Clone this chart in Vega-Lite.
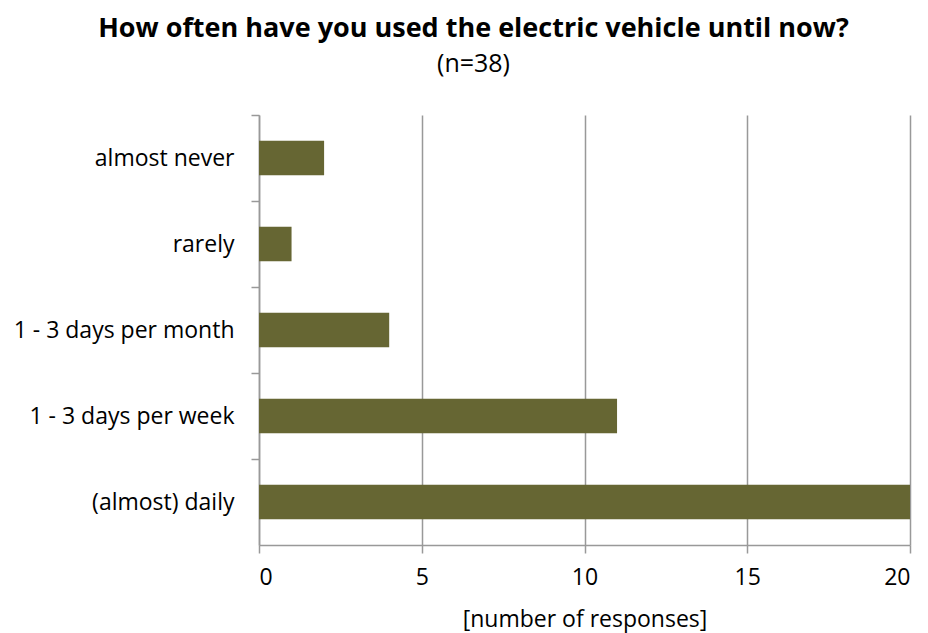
{
  "$schema": "https://vega.github.io/schema/vega-lite/v6.json",
  "autosize": "none",
  "width": 651,
  "height": 430,
  "padding": {"left": 259, "top": 115, "right": 18, "bottom": 88},
  "background": "white",
  "title": {
    "text": "How often have you used the electric vehicle until now?",
    "subtitle": "(n=38)",
    "anchor": "middle",
    "frame": "group",
    "dx": -111,
    "offset": 36,
    "font": "Open Sans",
    "fontSize": 27,
    "fontWeight": "bold",
    "color": "#000000",
    "subtitleFont": "Open Sans",
    "subtitleFontSize": 25,
    "subtitleColor": "#000000",
    "subtitlePadding": 9
  },
  "data": {
    "values": [
      {"category": "almost never", "responses": 2},
      {"category": "rarely", "responses": 1},
      {"category": "1 - 3 days per month", "responses": 4},
      {"category": "1 - 3 days per week", "responses": 11},
      {"category": "(almost) daily", "responses": 20}
    ]
  },
  "mark": {"type": "bar", "color": "#666633"},
  "encoding": {
    "y": {
      "field": "category",
      "type": "nominal",
      "sort": ["almost never", "rarely", "1 - 3 days per month", "1 - 3 days per week", "(almost) daily"],
      "scale": {"paddingInner": 0.6, "paddingOuter": 0.3},
      "axis": {
        "title": null,
        "tickOffset": -43,
        "labelOffset": 43,
        "tickSize": 8,
        "tickColor": "#999999",
        "tickWidth": 1.5,
        "domainColor": "#999999",
        "domainWidth": 1.5,
        "labelFont": "Open Sans",
        "labelFontSize": 23,
        "labelColor": "#000000",
        "labelPadding": 17,
        "labelLimit": 400,
        "grid": false
      }
    },
    "x": {
      "field": "responses",
      "type": "quantitative",
      "scale": {"domain": [0, 20], "nice": false},
      "axis": {
        "values": [0, 5, 10, 15, 20],
        "title": "[number of responses]",
        "titleFont": "Open Sans",
        "titleFontSize": 23,
        "titleFontWeight": "normal",
        "titleColor": "#000000",
        "titlePadding": 19,
        "tickSize": 8,
        "tickColor": "#999999",
        "tickWidth": 1.5,
        "domainColor": "#999999",
        "domainWidth": 1.5,
        "grid": true,
        "gridColor": "#999999",
        "gridWidth": 1.5,
        "labelFont": "Open Sans",
        "labelFontSize": 23,
        "labelColor": "#000000",
        "labelPadding": 13
      }
    }
  },
  "config": {"view": {"stroke": null}}
}
